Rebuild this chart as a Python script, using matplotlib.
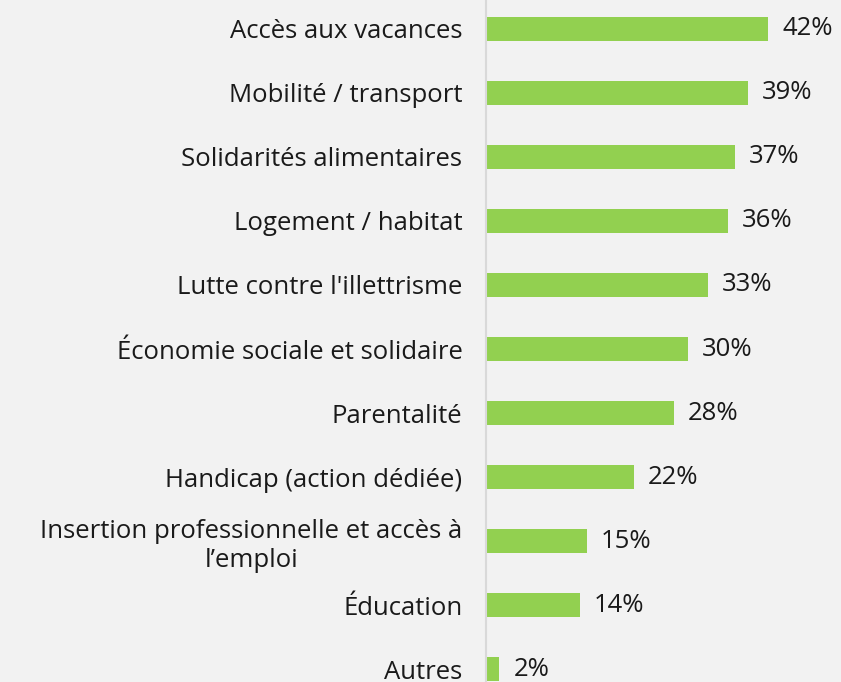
import matplotlib.pyplot as plt

categories = [
    "Accès aux vacances",
    "Mobilité / transport",
    "Solidarités alimentaires",
    "Logement / habitat",
    "Lutte contre l'illettrisme",
    "Économie sociale et solidaire",
    "Parentalité",
    "Handicap (action dédiée)",
    "Insertion professionnelle et accès à\nl’emploi",
    "Éducation",
    "Autres",
]
values = [42, 39, 37, 36, 33, 30, 28, 22, 15, 14, 2]

plt.rcParams['font.family'] = ['Open Sans', 'DejaVu Sans']

W, H = 841, 682
fig = plt.figure(figsize=(W / 100, H / 100), dpi=100)
fig.patch.set_facecolor('#F2F2F2')
ax = fig.add_axes([486 / W, 0, 1 - 486 / W, 1])
ax.set_facecolor('#F2F2F2')

pos = list(range(len(categories)))
bars = ax.barh(pos, values, height=0.39, color='#92D050')
ax.set_xlim(0, 52.8)
ax.set_ylim(len(categories) - 1 + 0.203, -0.453)

ax.set_yticks(pos)
ax.set_yticklabels(categories, fontsize=18.5, color='#1a1a1a', linespacing=1.2)
for lab in ax.get_yticklabels():
    lab.set_multialignment('center')
ax.tick_params(axis='y', length=0, pad=17)
ax.set_xticks([])

for s in ['top', 'right', 'bottom']:
    ax.spines[s].set_visible(False)
ax.spines['left'].set_color('#D9D9D9')
ax.spines['left'].set_linewidth(1.5)

ax.bar_label(bars, labels=[f"{v}%" for v in values], padding=10,
             fontsize=18.5, color='#1a1a1a', clip_on=False)

fig.savefig('out.png', dpi=100, facecolor=fig.get_facecolor())
